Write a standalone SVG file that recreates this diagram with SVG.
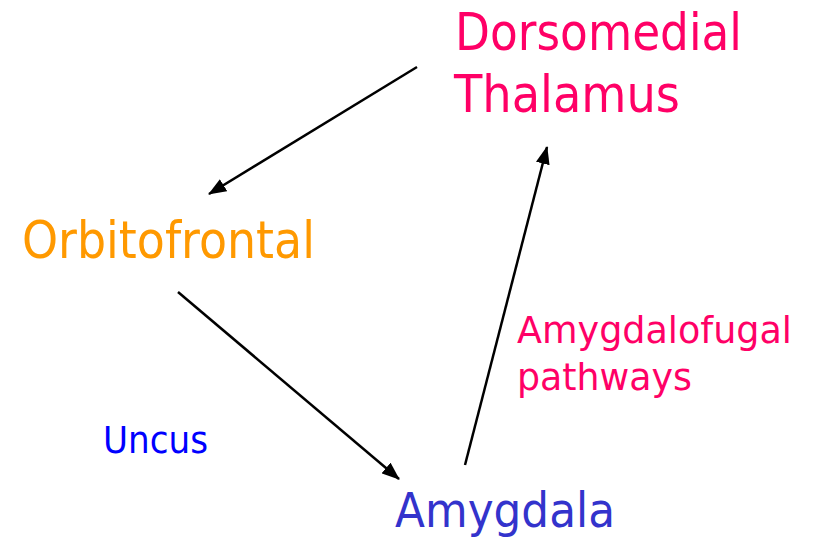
<svg xmlns="http://www.w3.org/2000/svg" width="815" height="545" viewBox="0 0 815 545">
  <style>
    text { font-family: "DejaVu Sans", Verdana, sans-serif; }
    .pink { fill: #FF0066; }
    .orange { fill: #FF9900; }
    .indigo { fill: #3333CC; }
    .blue { fill: #0000FF; }
    .conn { stroke: #000; stroke-width: 2.5; fill: none; marker-end: url(#head); }
  </style>
  <defs>
    <marker id="head" markerUnits="userSpaceOnUse" markerWidth="18" markerHeight="14" refX="17" refY="7" orient="auto">
      <path d="M0,0 L18,7 L0,14 Z" fill="#000"/>
    </marker>
  </defs>
  <rect width="815" height="545" fill="#fff"/>

  <g id="connectors">
    <line class="conn" x1="417" y1="67" x2="209" y2="194"/>
    <line class="conn" x1="178" y1="292" x2="399" y2="479"/>
    <line class="conn" x1="465" y1="465" x2="547" y2="147"/>
  </g>

  <g id="dorsomedial-thalamus">
    <text class="pink" x="455" y="50" font-size="52" textLength="287" lengthAdjust="spacingAndGlyphs">Dorsomedial</text>
    <text class="pink" x="454" y="112" font-size="52" textLength="226" lengthAdjust="spacingAndGlyphs">Thalamus</text>
  </g>

  <g id="orbitofrontal">
    <text class="orange" x="22" y="258" font-size="51" textLength="293" lengthAdjust="spacingAndGlyphs">Orbitofrontal</text>
  </g>

  <g id="amygdala">
    <text class="indigo" x="395" y="527" font-size="48" textLength="220" lengthAdjust="spacingAndGlyphs">Amygdala</text>
  </g>

  <g id="amygdalofugal-label">
    <text class="pink" x="517" y="343" font-size="38" textLength="275" lengthAdjust="spacingAndGlyphs">Amygdalofugal</text>
    <text class="pink" x="517" y="390" font-size="38" textLength="175" lengthAdjust="spacingAndGlyphs">pathways</text>
  </g>

  <g id="uncus-label">
    <text class="blue" x="103" y="453" font-size="38" textLength="105" lengthAdjust="spacingAndGlyphs">Uncus</text>
  </g>
</svg>
